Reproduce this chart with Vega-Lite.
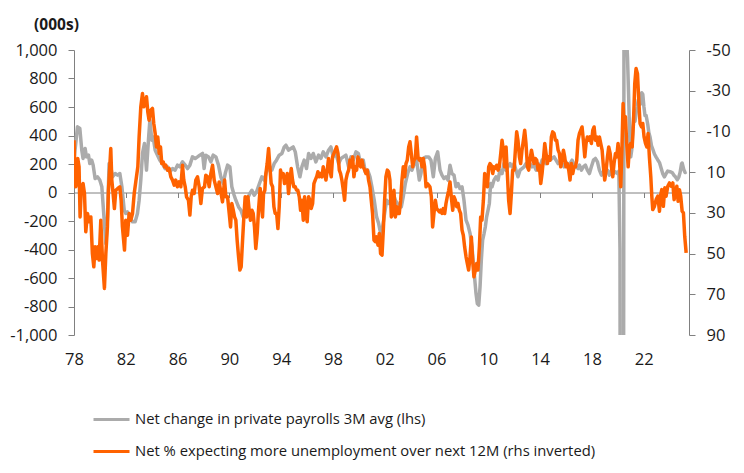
{
"$schema": "https://vega.github.io/schema/vega-lite/v6.json",
"width": 615, "height": 285,
"autosize": {"type": "none"},
"padding": {"left": 74, "top": 50, "right": 55, "bottom": 138},
"background": "white",
"config": {"view": {"stroke": null}, "font": "Open Sans",
  "axis": {"labelFont": "Open Sans", "labelFontSize": 16.5, "labelColor": "#1a1a1a", "domainColor": "#808080", "tickColor": "#808080", "grid": false, "titleFont": "Open Sans"},
  "legend": {"labelFont": "Open Sans"}},
"datasets": {
"payrolls": [
{"t":1978.00,"v":230},{"t":1978.27,"v":461},{"t":1978.45,"v":449},{"t":1978.60,"v":297},{"t":1978.70,"v":239},{"t":1978.86,"v":309},{"t":1978.96,"v":250},{"t":1979.12,"v":262},{"t":1979.22,"v":203},{"t":1979.37,"v":227},{"t":1979.48,"v":192},{"t":1979.63,"v":98},{"t":1979.81,"v":110},{"t":1979.99,"v":87},{"t":1980.15,"v":40},{"t":1980.33,"v":-194},{"t":1980.46,"v":-358},{"t":1980.59,"v":-171},{"t":1980.71,"v":203},{"t":1980.84,"v":180},{"t":1980.97,"v":110},{"t":1981.18,"v":133},{"t":1981.36,"v":122},{"t":1981.54,"v":133},{"t":1981.70,"v":40},{"t":1981.88,"v":-124},{"t":1982.00,"v":-147},{"t":1982.13,"v":-136},{"t":1982.31,"v":-171},{"t":1982.52,"v":-206},{"t":1982.72,"v":-206},{"t":1982.90,"v":-147},{"t":1983.03,"v":-54},{"t":1983.16,"v":87},{"t":1983.29,"v":274},{"t":1983.44,"v":344},{"t":1983.60,"v":157},{"t":1983.75,"v":367},{"t":1983.86,"v":508},{"t":1984.01,"v":367},{"t":1984.11,"v":391},{"t":1984.27,"v":297},{"t":1984.45,"v":262},{"t":1984.63,"v":227},{"t":1984.83,"v":203},{"t":1985.04,"v":168},{"t":1985.22,"v":180},{"t":1985.40,"v":145},{"t":1985.61,"v":168},{"t":1985.81,"v":157},{"t":1985.99,"v":192},{"t":1986.17,"v":180},{"t":1986.38,"v":215},{"t":1986.59,"v":192},{"t":1986.77,"v":168},{"t":1986.95,"v":192},{"t":1987.15,"v":250},{"t":1987.36,"v":239},{"t":1987.54,"v":250},{"t":1987.72,"v":262},{"t":1987.93,"v":274},{"t":1988.05,"v":168},{"t":1988.18,"v":262},{"t":1988.39,"v":250},{"t":1988.57,"v":215},{"t":1988.75,"v":262},{"t":1988.96,"v":250},{"t":1989.16,"v":192},{"t":1989.34,"v":110},{"t":1989.52,"v":63},{"t":1989.68,"v":133},{"t":1989.86,"v":192},{"t":1990.04,"v":180},{"t":1990.19,"v":40},{"t":1990.37,"v":-19},{"t":1990.50,"v":-54},{"t":1990.71,"v":-101},{"t":1990.89,"v":-124},{"t":1991.07,"v":-171},{"t":1991.22,"v":-101},{"t":1991.40,"v":-42},{"t":1991.58,"v":-7},{"t":1991.74,"v":16},{"t":1991.92,"v":-19},{"t":1992.10,"v":5},{"t":1992.31,"v":60},{"t":1992.51,"v":110},{"t":1992.69,"v":87},{"t":1992.87,"v":145},{"t":1993.08,"v":180},{"t":1993.28,"v":157},{"t":1993.46,"v":203},{"t":1993.64,"v":227},{"t":1993.85,"v":262},{"t":1994.06,"v":274},{"t":1994.24,"v":320},{"t":1994.37,"v":332},{"t":1994.57,"v":297},{"t":1994.75,"v":309},{"t":1994.93,"v":320},{"t":1995.09,"v":285},{"t":1995.27,"v":180},{"t":1995.45,"v":110},{"t":1995.60,"v":180},{"t":1995.78,"v":227},{"t":1995.96,"v":168},{"t":1996.12,"v":274},{"t":1996.30,"v":239},{"t":1996.48,"v":274},{"t":1996.68,"v":215},{"t":1996.89,"v":262},{"t":1997.07,"v":239},{"t":1997.25,"v":285},{"t":1997.46,"v":250},{"t":1997.66,"v":297},{"t":1997.84,"v":320},{"t":1998.02,"v":250},{"t":1998.23,"v":274},{"t":1998.44,"v":203},{"t":1998.62,"v":239},{"t":1998.80,"v":250},{"t":1999.00,"v":262},{"t":1999.21,"v":180},{"t":1999.39,"v":250},{"t":1999.57,"v":227},{"t":1999.78,"v":285},{"t":1999.96,"v":274},{"t":2000.16,"v":192},{"t":2000.34,"v":227},{"t":2000.50,"v":145},{"t":2000.68,"v":157},{"t":2000.86,"v":110},{"t":2001.01,"v":40},{"t":2001.19,"v":-54},{"t":2001.37,"v":-171},{"t":2001.53,"v":-218},{"t":2001.71,"v":-299},{"t":2001.84,"v":-241},{"t":2001.99,"v":-147},{"t":2002.15,"v":-54},{"t":2002.30,"v":-77},{"t":2002.48,"v":-54},{"t":2002.66,"v":-7},{"t":2002.82,"v":-54},{"t":2002.97,"v":-77},{"t":2003.13,"v":-101},{"t":2003.28,"v":-101},{"t":2003.43,"v":-30},{"t":2003.59,"v":63},{"t":2003.77,"v":133},{"t":2003.95,"v":180},{"t":2004.10,"v":157},{"t":2004.28,"v":203},{"t":2004.46,"v":227},{"t":2004.67,"v":87},{"t":2004.80,"v":133},{"t":2004.98,"v":239},{"t":2005.19,"v":250},{"t":2005.39,"v":250},{"t":2005.57,"v":227},{"t":2005.75,"v":110},{"t":2005.91,"v":239},{"t":2006.09,"v":285},{"t":2006.27,"v":157},{"t":2006.42,"v":122},{"t":2006.58,"v":98},{"t":2006.73,"v":110},{"t":2006.89,"v":87},{"t":2007.04,"v":192},{"t":2007.19,"v":133},{"t":2007.35,"v":122},{"t":2007.50,"v":40},{"t":2007.66,"v":63},{"t":2007.81,"v":28},{"t":2007.97,"v":40},{"t":2008.12,"v":-54},{"t":2008.28,"v":-194},{"t":2008.43,"v":-229},{"t":2008.59,"v":-288},{"t":2008.74,"v":-381},{"t":2008.89,"v":-545},{"t":2009.05,"v":-709},{"t":2009.15,"v":-779},{"t":2009.26,"v":-791},{"t":2009.36,"v":-662},{"t":2009.46,"v":-475},{"t":2009.56,"v":-334},{"t":2009.67,"v":-288},{"t":2009.77,"v":-241},{"t":2009.87,"v":-171},{"t":2009.98,"v":-124},{"t":2010.08,"v":-77},{"t":2010.18,"v":63},{"t":2010.29,"v":40},{"t":2010.44,"v":87},{"t":2010.59,"v":110},{"t":2010.75,"v":87},{"t":2010.90,"v":157},{"t":2011.06,"v":133},{"t":2011.21,"v":203},{"t":2011.37,"v":157},{"t":2011.52,"v":180},{"t":2011.68,"v":203},{"t":2011.83,"v":180},{"t":2011.99,"v":203},{"t":2012.14,"v":157},{"t":2012.29,"v":110},{"t":2012.45,"v":157},{"t":2012.60,"v":168},{"t":2012.76,"v":180},{"t":2012.91,"v":203},{"t":2013.07,"v":192},{"t":2013.22,"v":203},{"t":2013.38,"v":180},{"t":2013.53,"v":192},{"t":2013.69,"v":157},{"t":2013.84,"v":203},{"t":2014.00,"v":180},{"t":2014.15,"v":227},{"t":2014.30,"v":215},{"t":2014.46,"v":203},{"t":2014.61,"v":239},{"t":2014.77,"v":227},{"t":2014.92,"v":239},{"t":2015.08,"v":250},{"t":2015.23,"v":227},{"t":2015.39,"v":203},{"t":2015.54,"v":215},{"t":2015.70,"v":203},{"t":2015.85,"v":180},{"t":2016.00,"v":215},{"t":2016.16,"v":180},{"t":2016.31,"v":203},{"t":2016.47,"v":227},{"t":2016.62,"v":192},{"t":2016.78,"v":180},{"t":2016.93,"v":168},{"t":2017.04,"v":192},{"t":2017.19,"v":157},{"t":2017.34,"v":180},{"t":2017.50,"v":192},{"t":2017.65,"v":157},{"t":2017.81,"v":133},{"t":2017.96,"v":180},{"t":2018.12,"v":227},{"t":2018.27,"v":239},{"t":2018.43,"v":215},{"t":2018.58,"v":157},{"t":2018.74,"v":122},{"t":2018.89,"v":145},{"t":2019.04,"v":133},{"t":2019.20,"v":157},{"t":2019.35,"v":122},{"t":2019.51,"v":157},{"t":2019.66,"v":133},{"t":2019.82,"v":145},{"t":2019.97,"v":133},{"t":2020.08,"v":150},{"t":2020.17,"v":-400},{"t":2020.25,"v":-7000},{"t":2020.33,"v":-5500},{"t":2020.42,"v":-3900},{"t":2020.50,"v":3200},{"t":2020.58,"v":2300},{"t":2020.67,"v":1100},{"t":2020.75,"v":950},{"t":2020.83,"v":700},{"t":2020.92,"v":400},{"t":2021.00,"v":250},{"t":2021.08,"v":300},{"t":2021.17,"v":450},{"t":2021.25,"v":560},{"t":2021.33,"v":500},{"t":2021.42,"v":560},{"t":2021.50,"v":600},{"t":2021.58,"v":650},{"t":2021.67,"v":640},{"t":2021.75,"v":620},{"t":2021.85,"v":700},{"t":2021.93,"v":690},{"t":2022.02,"v":600},{"t":2022.10,"v":540},{"t":2022.19,"v":540},{"t":2022.31,"v":480},{"t":2022.40,"v":420},{"t":2022.49,"v":390},{"t":2022.60,"v":330},{"t":2022.72,"v":300},{"t":2022.83,"v":270},{"t":2022.95,"v":250},{"t":2023.08,"v":230},{"t":2023.22,"v":210},{"t":2023.35,"v":170},{"t":2023.48,"v":130},{"t":2023.60,"v":110},{"t":2023.72,"v":130},{"t":2023.85,"v":150},{"t":2024.04,"v":146},{"t":2024.20,"v":140},{"t":2024.35,"v":120},{"t":2024.45,"v":111},{"t":2024.60,"v":90},{"t":2024.72,"v":110},{"t":2024.81,"v":140},{"t":2024.92,"v":200},{"t":2024.97,"v":207},{"t":2025.10,"v":160},{"t":2025.20,"v":140},{"t":2025.28,"v":146}
],
"expect": [
{"t":1978.00,"r":-5.7},{"t":1978.06,"r":7.4},{"t":1978.14,"r":17.2},{"t":1978.21,"r":13.9},{"t":1978.29,"r":3.3},{"t":1978.39,"r":7.4},{"t":1978.47,"r":32},{"t":1978.57,"r":17.2},{"t":1978.70,"r":15.6},{"t":1978.81,"r":20.5},{"t":1978.91,"r":39.3},{"t":1979.04,"r":30.3},{"t":1979.17,"r":34.4},{"t":1979.30,"r":32},{"t":1979.42,"r":50},{"t":1979.53,"r":56.5},{"t":1979.63,"r":46.7},{"t":1979.73,"r":52.4},{"t":1979.84,"r":46.7},{"t":1979.94,"r":53.2},{"t":1980.07,"r":33.6},{"t":1980.20,"r":53.2},{"t":1980.35,"r":67.1},{"t":1980.46,"r":50},{"t":1980.58,"r":36.9},{"t":1980.66,"r":18.9},{"t":1980.84,"r":-1.6},{"t":1980.92,"r":13.9},{"t":1981.02,"r":20.5},{"t":1981.12,"r":27.9},{"t":1981.23,"r":18.9},{"t":1981.38,"r":18},{"t":1981.54,"r":17.2},{"t":1981.64,"r":23.8},{"t":1981.74,"r":36.9},{"t":1981.90,"r":48.3},{"t":1982.00,"r":33.6},{"t":1982.13,"r":41},{"t":1982.26,"r":30.3},{"t":1982.39,"r":33.6},{"t":1982.52,"r":30.3},{"t":1982.65,"r":20.5},{"t":1982.77,"r":14.8},{"t":1982.93,"r":7.4},{"t":1983.03,"r":-7.3},{"t":1983.16,"r":-22.1},{"t":1983.29,"r":-28.6},{"t":1983.39,"r":-22.1},{"t":1983.49,"r":-23.7},{"t":1983.60,"r":-27},{"t":1983.70,"r":-19.6},{"t":1983.80,"r":-15.5},{"t":1983.93,"r":-20.4},{"t":1984.06,"r":-21.3},{"t":1984.16,"r":-13.9},{"t":1984.27,"r":-9},{"t":1984.37,"r":-2.4},{"t":1984.47,"r":-7.3},{"t":1984.58,"r":0.8},{"t":1984.68,"r":-2.4},{"t":1984.78,"r":5.8},{"t":1984.89,"r":4.9},{"t":1984.99,"r":7.4},{"t":1985.09,"r":6.6},{"t":1985.22,"r":9},{"t":1985.35,"r":8.2},{"t":1985.48,"r":12.3},{"t":1985.61,"r":13.9},{"t":1985.74,"r":16.4},{"t":1985.86,"r":13.9},{"t":1985.99,"r":17.2},{"t":1986.12,"r":14.8},{"t":1986.25,"r":17.2},{"t":1986.38,"r":6.6},{"t":1986.48,"r":13.9},{"t":1986.59,"r":17.2},{"t":1986.69,"r":22.1},{"t":1986.84,"r":23.8},{"t":1986.95,"r":31.1},{"t":1987.05,"r":22.1},{"t":1987.15,"r":18.9},{"t":1987.28,"r":20.5},{"t":1987.41,"r":13.9},{"t":1987.54,"r":12.3},{"t":1987.67,"r":17.2},{"t":1987.80,"r":25.4},{"t":1987.92,"r":18},{"t":1988.08,"r":17.2},{"t":1988.18,"r":11.5},{"t":1988.31,"r":12.3},{"t":1988.44,"r":17.2},{"t":1988.57,"r":10.7},{"t":1988.70,"r":6.6},{"t":1988.83,"r":13.9},{"t":1988.96,"r":17.2},{"t":1989.09,"r":20.5},{"t":1989.21,"r":14.8},{"t":1989.34,"r":19.7},{"t":1989.47,"r":24.6},{"t":1989.63,"r":13.9},{"t":1989.73,"r":22.1},{"t":1989.86,"r":22.1},{"t":1989.99,"r":30.3},{"t":1990.09,"r":36.9},{"t":1990.19,"r":25.4},{"t":1990.30,"r":28.7},{"t":1990.40,"r":32},{"t":1990.50,"r":33.6},{"t":1990.60,"r":43.4},{"t":1990.71,"r":51.6},{"t":1990.81,"r":58.1},{"t":1990.91,"r":56.5},{"t":1991.02,"r":43.4},{"t":1991.12,"r":32},{"t":1991.22,"r":22.1},{"t":1991.33,"r":32},{"t":1991.43,"r":22.1},{"t":1991.53,"r":28.7},{"t":1991.63,"r":33.6},{"t":1991.74,"r":28.7},{"t":1991.84,"r":30.3},{"t":1991.94,"r":36.9},{"t":1992.04,"r":47.5},{"t":1992.15,"r":40.1},{"t":1992.25,"r":28.7},{"t":1992.38,"r":18},{"t":1992.49,"r":27},{"t":1992.56,"r":32},{"t":1992.64,"r":20.5},{"t":1992.74,"r":18.9},{"t":1992.82,"r":10.7},{"t":1992.92,"r":5.8},{"t":1993.03,"r":-1.6},{"t":1993.13,"r":7.4},{"t":1993.23,"r":15.6},{"t":1993.34,"r":17.2},{"t":1993.44,"r":27},{"t":1993.54,"r":30.3},{"t":1993.65,"r":30.3},{"t":1993.75,"r":37.7},{"t":1993.85,"r":27},{"t":1993.95,"r":9},{"t":1994.06,"r":12.3},{"t":1994.16,"r":10.7},{"t":1994.26,"r":15.6},{"t":1994.37,"r":13.9},{"t":1994.47,"r":10.7},{"t":1994.57,"r":20.5},{"t":1994.68,"r":13.9},{"t":1994.78,"r":8.2},{"t":1994.88,"r":13.9},{"t":1994.98,"r":17.2},{"t":1995.09,"r":17.2},{"t":1995.19,"r":18.9},{"t":1995.29,"r":18.9},{"t":1995.40,"r":22.1},{"t":1995.50,"r":28.7},{"t":1995.60,"r":23.8},{"t":1995.71,"r":33.6},{"t":1995.81,"r":22.1},{"t":1995.91,"r":30.3},{"t":1996.01,"r":34.4},{"t":1996.12,"r":22.1},{"t":1996.22,"r":23.8},{"t":1996.32,"r":27.9},{"t":1996.43,"r":25.4},{"t":1996.53,"r":15.6},{"t":1996.63,"r":13.9},{"t":1996.74,"r":12.3},{"t":1996.84,"r":9.8},{"t":1996.94,"r":12.3},{"t":1997.05,"r":10.7},{"t":1997.15,"r":12.3},{"t":1997.25,"r":7.4},{"t":1997.35,"r":10.7},{"t":1997.46,"r":13.9},{"t":1997.56,"r":9},{"t":1997.66,"r":3.3},{"t":1997.77,"r":9},{"t":1997.87,"r":12.3},{"t":1997.97,"r":2.5},{"t":1998.08,"r":0.8},{"t":1998.18,"r":-0.8},{"t":1998.28,"r":-2.4},{"t":1998.39,"r":0.8},{"t":1998.49,"r":9},{"t":1998.59,"r":10.7},{"t":1998.69,"r":13.9},{"t":1998.80,"r":18.9},{"t":1998.90,"r":23.8},{"t":1999.00,"r":13.9},{"t":1999.11,"r":10.7},{"t":1999.21,"r":9},{"t":1999.31,"r":4.1},{"t":1999.42,"r":7.4},{"t":1999.52,"r":2.5},{"t":1999.62,"r":12.3},{"t":1999.72,"r":7.4},{"t":1999.83,"r":9},{"t":1999.93,"r":2.5},{"t":2000.03,"r":5.8},{"t":2000.14,"r":7.4},{"t":2000.24,"r":4.1},{"t":2000.34,"r":7.4},{"t":2000.45,"r":9},{"t":2000.55,"r":10.7},{"t":2000.65,"r":9},{"t":2000.75,"r":13.9},{"t":2000.86,"r":17.2},{"t":2000.96,"r":23.8},{"t":2001.06,"r":30.3},{"t":2001.17,"r":43.4},{"t":2001.27,"r":44.2},{"t":2001.37,"r":41.8},{"t":2001.48,"r":45.9},{"t":2001.58,"r":40.1},{"t":2001.68,"r":50},{"t":2001.79,"r":50.8},{"t":2001.89,"r":38.5},{"t":2001.99,"r":23.8},{"t":2002.09,"r":12.3},{"t":2002.20,"r":9},{"t":2002.30,"r":9.8},{"t":2002.40,"r":13.9},{"t":2002.51,"r":32},{"t":2002.61,"r":30.3},{"t":2002.71,"r":18.9},{"t":2002.82,"r":32},{"t":2002.92,"r":27},{"t":2003.02,"r":30.3},{"t":2003.12,"r":30.3},{"t":2003.23,"r":23.8},{"t":2003.33,"r":13.9},{"t":2003.43,"r":7.4},{"t":2003.54,"r":12.3},{"t":2003.64,"r":5.8},{"t":2003.74,"r":4.1},{"t":2003.85,"r":-2.4},{"t":2003.95,"r":-4.9},{"t":2004.05,"r":0.8},{"t":2004.16,"r":7.4},{"t":2004.26,"r":4.1},{"t":2004.36,"r":3.3},{"t":2004.46,"r":-7.3},{"t":2004.57,"r":2.5},{"t":2004.67,"r":4.1},{"t":2004.77,"r":3.3},{"t":2004.88,"r":7.4},{"t":2004.98,"r":3.3},{"t":2005.08,"r":7.4},{"t":2005.19,"r":17.2},{"t":2005.29,"r":15.6},{"t":2005.39,"r":16.4},{"t":2005.49,"r":17.2},{"t":2005.60,"r":22.1},{"t":2005.70,"r":36.9},{"t":2005.80,"r":30.3},{"t":2005.91,"r":23.8},{"t":2006.01,"r":27.9},{"t":2006.11,"r":28.7},{"t":2006.22,"r":29.5},{"t":2006.32,"r":28.7},{"t":2006.42,"r":30.3},{"t":2006.52,"r":27.9},{"t":2006.63,"r":30.3},{"t":2006.73,"r":25.4},{"t":2006.83,"r":22.1},{"t":2006.94,"r":18.9},{"t":2007.04,"r":14.8},{"t":2007.14,"r":22.1},{"t":2007.25,"r":28.7},{"t":2007.35,"r":22.1},{"t":2007.45,"r":23.8},{"t":2007.56,"r":27},{"t":2007.66,"r":25.4},{"t":2007.76,"r":28.7},{"t":2007.86,"r":30.3},{"t":2007.97,"r":38.5},{"t":2008.07,"r":41},{"t":2008.17,"r":46.7},{"t":2008.28,"r":51.6},{"t":2008.38,"r":54.9},{"t":2008.48,"r":58.1},{"t":2008.59,"r":51.6},{"t":2008.69,"r":41.8},{"t":2008.79,"r":53.2},{"t":2008.89,"r":61.4},{"t":2009.00,"r":58.1},{"t":2009.10,"r":54.9},{"t":2009.20,"r":58.1},{"t":2009.31,"r":46.7},{"t":2009.41,"r":32},{"t":2009.51,"r":33.6},{"t":2009.62,"r":23.8},{"t":2009.72,"r":10.7},{"t":2009.82,"r":13.9},{"t":2009.93,"r":17.2},{"t":2010.03,"r":7.4},{"t":2010.13,"r":5.8},{"t":2010.23,"r":6.6},{"t":2010.34,"r":10.7},{"t":2010.44,"r":7.4},{"t":2010.54,"r":8.2},{"t":2010.65,"r":6.6},{"t":2010.75,"r":9},{"t":2010.85,"r":7.4},{"t":2010.96,"r":0.8},{"t":2011.06,"r":-5.7},{"t":2011.16,"r":-0.8},{"t":2011.26,"r":7.4},{"t":2011.37,"r":-2.4},{"t":2011.47,"r":10.7},{"t":2011.57,"r":23.8},{"t":2011.68,"r":30.3},{"t":2011.78,"r":20.5},{"t":2011.88,"r":9},{"t":2011.99,"r":9},{"t":2012.09,"r":-0.8},{"t":2012.19,"r":-9.8},{"t":2012.29,"r":-5.7},{"t":2012.40,"r":2.5},{"t":2012.50,"r":5.8},{"t":2012.60,"r":-0.8},{"t":2012.71,"r":-5.7},{"t":2012.81,"r":-10.6},{"t":2012.91,"r":-4.1},{"t":2013.02,"r":7.4},{"t":2013.12,"r":9},{"t":2013.22,"r":4.1},{"t":2013.33,"r":-0.8},{"t":2013.43,"r":2.5},{"t":2013.53,"r":5.8},{"t":2013.63,"r":3.3},{"t":2013.74,"r":4.1},{"t":2013.84,"r":9},{"t":2013.94,"r":6.6},{"t":2014.05,"r":15.6},{"t":2014.15,"r":10.7},{"t":2014.25,"r":4.1},{"t":2014.36,"r":-4.1},{"t":2014.46,"r":0.8},{"t":2014.56,"r":5.8},{"t":2014.66,"r":2.5},{"t":2014.77,"r":4.1},{"t":2014.87,"r":-7.3},{"t":2014.97,"r":-9.8},{"t":2015.08,"r":-9},{"t":2015.18,"r":-5.7},{"t":2015.28,"r":-5.7},{"t":2015.39,"r":-0.8},{"t":2015.49,"r":0.8},{"t":2015.59,"r":7.4},{"t":2015.70,"r":4.1},{"t":2015.80,"r":-0.8},{"t":2015.90,"r":2.5},{"t":2016.00,"r":7.4},{"t":2016.11,"r":5.8},{"t":2016.21,"r":9},{"t":2016.31,"r":13.9},{"t":2016.42,"r":5.8},{"t":2016.52,"r":10.7},{"t":2016.62,"r":7.4},{"t":2016.73,"r":7.4},{"t":2016.83,"r":4.1},{"t":2016.93,"r":-5.7},{"t":2017.04,"r":-9},{"t":2017.14,"r":-10.6},{"t":2017.24,"r":-12.2},{"t":2017.34,"r":-5.7},{"t":2017.45,"r":2.5},{"t":2017.55,"r":-4.1},{"t":2017.65,"r":-7.3},{"t":2017.76,"r":-5.7},{"t":2017.86,"r":-7.3},{"t":2017.96,"r":-4.1},{"t":2018.07,"r":-10.6},{"t":2018.17,"r":-12.2},{"t":2018.27,"r":-5.7},{"t":2018.37,"r":-7.3},{"t":2018.48,"r":-3.2},{"t":2018.58,"r":-7.3},{"t":2018.68,"r":-4.1},{"t":2018.79,"r":-0.8},{"t":2018.89,"r":7.4},{"t":2018.99,"r":13.9},{"t":2019.10,"r":9},{"t":2019.20,"r":2.5},{"t":2019.30,"r":-2.4},{"t":2019.41,"r":0.8},{"t":2019.51,"r":7.4},{"t":2019.61,"r":12.3},{"t":2019.71,"r":5.8},{"t":2019.82,"r":0.8},{"t":2019.92,"r":2.5},{"t":2020.02,"r":-4.1},{"t":2020.13,"r":4.1},{"t":2020.23,"r":17.2},{"t":2020.33,"r":-4.1},{"t":2020.41,"r":-23.7},{"t":2020.49,"r":-12.2},{"t":2020.59,"r":-17.2},{"t":2020.69,"r":-4.1},{"t":2020.80,"r":7.4},{"t":2020.90,"r":-2.4},{"t":2021.00,"r":-4.1},{"t":2021.11,"r":-2.4},{"t":2021.21,"r":-13.9},{"t":2021.31,"r":-33.5},{"t":2021.41,"r":-40.9},{"t":2021.52,"r":-38.4},{"t":2021.62,"r":-25.3},{"t":2021.72,"r":-13.9},{"t":2021.83,"r":-12.2},{"t":2021.93,"r":-13.9},{"t":2022.03,"r":-7.3},{"t":2022.14,"r":-4.1},{"t":2022.24,"r":-2.4},{"t":2022.34,"r":-9},{"t":2022.44,"r":2.5},{"t":2022.55,"r":12.3},{"t":2022.63,"r":22.1},{"t":2022.70,"r":28.4},{"t":2022.83,"r":26.8},{"t":2022.96,"r":23.5},{"t":2023.09,"r":21.8},{"t":2023.22,"r":29.2},{"t":2023.29,"r":21.8},{"t":2023.40,"r":18.6},{"t":2023.52,"r":26.8},{"t":2023.63,"r":17.7},{"t":2023.73,"r":21.8},{"t":2023.86,"r":16.9},{"t":2023.99,"r":15.3},{"t":2024.12,"r":16.9},{"t":2024.25,"r":15.3},{"t":2024.35,"r":23.5},{"t":2024.45,"r":20},{"t":2024.56,"r":16.9},{"t":2024.66,"r":24.3},{"t":2024.76,"r":18.6},{"t":2024.86,"r":21.8},{"t":2024.97,"r":29.2},{"t":2025.07,"r":30},{"t":2025.17,"r":41.5},{"t":2025.28,"r":49.7}
]
},
"layer": [
{
 "data": {"name": "payrolls"},
 "mark": {"type": "line", "clip": true, "strokeWidth": 3.5, "strokeJoin": "round"},
 "encoding": {
  "x": {"field": "t", "type": "quantitative", "scale": {"domain": [1978, 2025.5], "nice": false, "zero": false},
        "axis": {"orient": "bottom", "title": null, "domain": false, "ticks": false, "labelPadding": 16, "values": [1978,1982,1986,1990,1994,1998,2002,2006,2010,2014,2018,2022], "labelExpr": "slice(toString(datum.value), 2)", "labelFlush": false, "labelOverlap": false}},
  "y": {"field": "v", "type": "quantitative", "scale": {"domain": [-1000, 1000], "nice": false, "zero": false},
        "axis": {"orient": "left", "values": [-1000,-800,-600,-400,-200,0,200,400,600,800,1000], "labelExpr": "replace(format(datum.value, ','), '−', '-')", "tickSize": 6, "labelPadding": 11, "title": "(000s)", "titleAngle": 0, "titleAlign": "center", "titleBaseline": "alphabetic", "titleX": -18, "titleY": -21, "titleFontWeight": "bold", "titleFontSize": 15.5, "titleColor": "#1a1a1a"}},
  "color": {"datum": "Net change in private payrolls 3M avg (lhs)", "type": "nominal",
            "scale": {"domain": ["Net change in private payrolls 3M avg (lhs)", "Net % expecting more unemployment over next 12M (rhs inverted)"], "range": ["#ABABAB", "#FF6200"]},
            "legend": {"orient": "none", "legendX": 18, "legendY": 350, "title": null, "padding": 0, "symbolType": "stroke", "symbolSize": 1296, "symbolStrokeWidth": 3, "labelFontSize": 14.8, "labelColor": "#1a1a1a", "labelOffset": 4, "rowPadding": 5, "labelLimit": 600}}
 }
},
{
 "data": {"name": "expect"},
 "mark": {"type": "line", "clip": true, "strokeWidth": 3.5, "strokeJoin": "round"},
 "encoding": {
  "x": {"field": "t", "type": "quantitative",
        "axis": {"orient": "bottom", "offset": -142.5, "title": null, "labels": false, "domain": true, "ticks": true, "tickSize": 5, "values": [1978,1982,1986,1990,1994,1998,2002,2006,2010,2014,2018,2022]}},
  "y": {"field": "r", "type": "quantitative", "scale": {"domain": [-50, 90], "reverse": true, "nice": false, "zero": false},
        "axis": {"orient": "right", "values": [-50,-30,-10,10,30,50,70,90], "labelExpr": "replace(format(datum.value, ','), '−', '-')", "tickSize": 6, "labelPadding": 11, "title": null}},
  "color": {"datum": "Net % expecting more unemployment over next 12M (rhs inverted)", "type": "nominal"}
 }
}
],
"resolve": {"scale": {"y": "independent"}, "axis": {"x": "independent"}}
}
